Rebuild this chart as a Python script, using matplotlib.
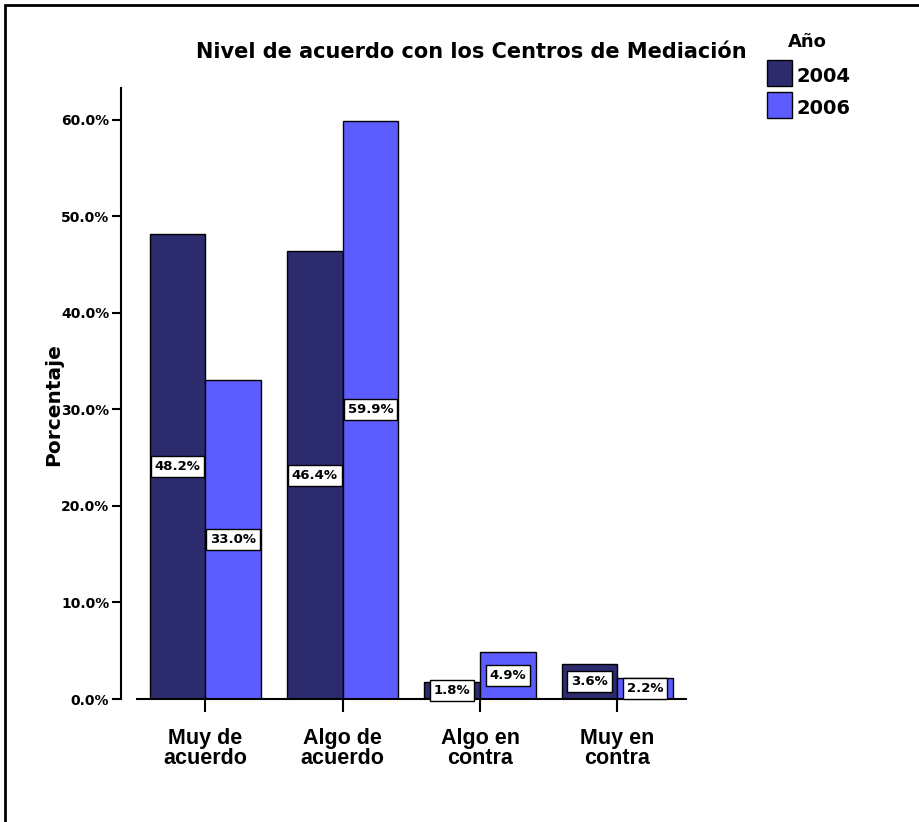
import matplotlib
matplotlib.use('Agg')
import matplotlib.pyplot as plt
from matplotlib.patches import Rectangle
import numpy as np

# ── data ────────────────────────────────────────────────
categories = ['Muy de\nacuerdo', 'Algo de\nacuerdo', 'Algo en\ncontra', 'Muy en\ncontra']
years = ['2004', '2006']
vals_2004 = [48.2, 46.4, 1.8, 3.6]
vals_2006 = [33.0, 59.9, 4.9, 2.2]
yticks = [0, 10, 20, 30, 40, 50, 60]

C2004 = '#2b2b6e'
C2006 = '#5c5cff'
WIDE = ['DejaVu Sans']
NARROW = ['Liberation Sans', 'DejaVu Sans']

plt.rcParams['font.family'] = WIDE
plt.rcParams['font.weight'] = 'bold'

fig = plt.figure(figsize=(9.2, 8.22), dpi=100)
fig.patch.set_facecolor('white')

# outer frame (only top/left visible in the original)
fig.add_artist(Rectangle((5 / 920, -0.05), 1.2, (822 - 5) / 822 + 0.05,
                         transform=fig.transFigure, fill=False,
                         edgecolor='black', linewidth=2))

ax = fig.add_axes([136.7 / 920, 123 / 822, 549.3 / 920, 611 / 822])

x = np.arange(len(categories))
w = 0.405
b1 = ax.bar(x - w / 2, vals_2004, w, color=C2004, edgecolor='black', linewidth=1, label=years[0])
b2 = ax.bar(x + w / 2, vals_2006, w, color=C2006, edgecolor='black', linewidth=1, label=years[1])

# value labels in white boxes, at half bar height
for bars, vals in ((b1, vals_2004), (b2, vals_2006)):
    for rect, v in zip(bars, vals):
        ax.text(rect.get_x() + rect.get_width() / 2, v / 2, f'{v:.1f}%',
                ha='center', va='center', fontsize=9.5, fontweight='bold',
                bbox=dict(boxstyle='square,pad=0.3', facecolor='white',
                          edgecolor='black', linewidth=1))

ax.set_xlim(-0.5, 3.5)
ax.set_ylim(0, 63.3)
ax.set_yticks(yticks)
ax.set_yticklabels([f'{t:.1f}%' for t in yticks], fontsize=8.5, fontweight='bold')
ax.set_xticks(x)
ax.set_xticklabels(categories, fontsize=15.5, fontweight='bold', linespacing=0.95,
                   family=NARROW)
ax.tick_params(axis='x', length=9, width=1.5, pad=12)
ax.tick_params(axis='y', length=6.5, width=1.5, pad=2)

for s in ('top', 'right'):
    ax.spines[s].set_visible(False)
ax.spines['left'].set_position(('outward', 11.3))
ax.spines['left'].set_linewidth(1.5)
ax.spines['bottom'].set_linewidth(1.5)

fig.text(54 / 920, 1 - 405 / 822, 'Porcentaje', rotation=90, ha='center', va='center',
         fontsize=14.5, fontweight='bold')

fig.text(471 / 920, 1 - 52 / 822, 'Nivel de acuerdo con los Centros de Mediación',
         ha='center', va='center', fontsize=15.0, fontweight='bold')

# legend
fig.text(807 / 920, 1 - 42 / 822, 'Año', ha='center', va='center',
         fontsize=13, fontweight='bold')
for i, (yr, col) in enumerate(zip(years, (C2004, C2006))):
    top = 60 + i * 32
    fig.add_artist(Rectangle((767 / 920, 1 - (top + 26) / 822), 25 / 920, 26 / 822,
                             transform=fig.transFigure, facecolor=col,
                             edgecolor='black', linewidth=1))
    fig.text(797 / 920, 1 - (top + 16) / 822, yr, ha='left', va='center',
             fontsize=14, fontweight='bold')

fig.savefig('out.png', dpi=100, facecolor='white')
